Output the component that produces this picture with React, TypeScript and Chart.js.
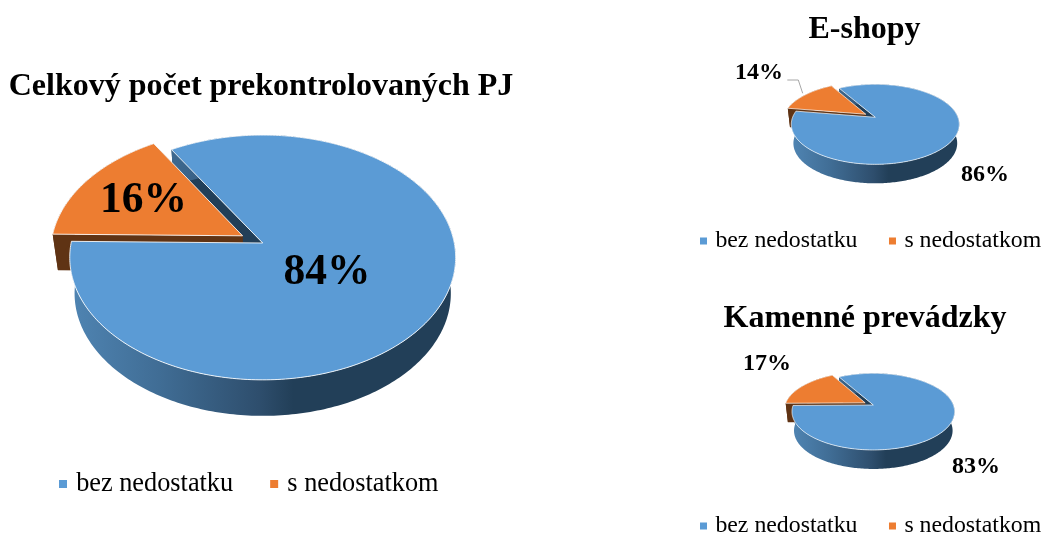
import React, { useEffect, useRef } from "react";
import { Chart, registerables } from "chart.js";

Chart.register(...registerables);

const categories = ["bez nedostatku", "s nedostatkom"];
const totalValues = [84, 16];
const eshopValues = [86, 14];
const storeValues = [83, 17];

const titleTotal = "Celkový počet prekontrolovaných PJ";
const titleEshop = "E-shopy";
const titleStore = "Kamenné prevádzky";

const BLUE = "#5B9BD5";
const ORANGE = "#ED7D31";
const NAVY = "#223F58";
const BROWN = "#5F3314";
const SERIF = "'Liberation Serif', 'Times New Roman', serif";

type Cfg = {
  region: number[];
  title: string; titleSize: number; titleAt: number[];
  values: number[]; rotation: number; offset: number;
  apex: number[]; R: number; sy: number; c: number; depth: number; rim: number;
  legendSize: number; legendBox: number; legendGap: number; legendAt: number[];
  labelSize: number; labelAt: number[][]; leader?: number[][];
};

const panels: Cfg[] = [
  {
    region: [0, 0, 560, 533], title: titleTotal, titleSize: 32, titleAt: [261, 87],
    values: totalValues, rotation: 328.4, offset: 23.3,
    apex: [262.7, 243], R: 191.6, sy: 0.63, c: -0.118, depth: 36, rim: 1,
    legendSize: 26.3, legendBox: 8, legendGap: 41, legendAt: [63, 484],
    labelSize: 43.5, labelAt: [[327, 272.5], [143.5, 200.5]],
  },
  {
    region: [600, 0, 443, 280], title: titleEshop, titleSize: 32, titleAt: [864.5, 30],
    values: eshopValues, rotation: 329.8, offset: 11.7,
    apex: [875.3, 117.3], R: 82.7, sy: 0.469, c: -0.175, depth: 19, rim: 0.8,
    legendSize: 23.8, legendBox: 7, legendGap: 35, legendAt: [703.5, 241],
    labelSize: 24, labelAt: [[985, 175], [759, 73]],
    leader: [[787.3, 80], [798.3, 80], [802.7, 93.3]],
  },
  {
    region: [600, 280, 443, 253], title: titleStore, titleSize: 32, titleAt: [865, 319],
    values: storeValues, rotation: 330.5, offset: 9.5,
    apex: [873.3, 405], R: 80.1, sy: 0.464, c: -0.173, depth: 19, rim: 0.8,
    legendSize: 23.8, legendBox: 7, legendGap: 35, legendAt: [703.5, 526],
    labelSize: 24, labelAt: [[976, 467], [767, 364]],
  },
];

function makePlugin(cfg: Cfg) {
  const [ox, oy] = cfg.region;
  const NARROW = 0.025;

  const project = (arc: any, off: number[], px: number, py: number, t: number) => {
    const x = px + off[0];
    const y = py + off[1];
    const w = 1 + (cfg.c * y) / cfg.R;
    return [arc.x + (x / w) * (1 - NARROW * t), arc.y + (cfg.sy * y) / w + cfg.depth * t];
  };
  const rimPoints = (arc: any, off: number[], t: number) => {
    const pts: number[][] = [];
    const n = Math.max(2, Math.ceil(((arc.endAngle - arc.startAngle) * 180) / Math.PI));
    for (let i = 0; i <= n; i++) {
      const a = arc.startAngle + ((arc.endAngle - arc.startAngle) * i) / n;
      pts.push(project(arc, off, arc.outerRadius * Math.cos(a), arc.outerRadius * Math.sin(a), t));
    }
    return pts;
  };
  const trace = (ctx: CanvasRenderingContext2D, pts: number[][]) => {
    ctx.beginPath();
    pts.forEach((p, i) => (i ? ctx.lineTo(p[0], p[1]) : ctx.moveTo(p[0], p[1])));
    ctx.closePath();
  };
  const offsetOf = (arc: any) => {
    const mid = (arc.startAngle + arc.endAngle) / 2;
    const o = arc.options.offset || 0;
    return [Math.cos(mid) * o, Math.sin(mid) * o];
  };
  const drawWalls = (ctx: CanvasRenderingContext2D, arc: any, outer: any, face: string) => {
    const off = offsetOf(arc);
    const top = rimPoints(arc, off, 0);
    const bottom = rimPoints(arc, off, 1);
    ctx.fillStyle = face;
    [0, top.length - 1].forEach((i) => {
      trace(ctx, [project(arc, off, 0, 0, 0), top[i], bottom[i], project(arc, off, 0, 0, 1)]);
      ctx.fill();
    });
    ctx.fillStyle = outer;
    trace(ctx, [...top, ...bottom.slice().reverse()]);
    ctx.fill();
  };
  const drawTop = (ctx: CanvasRenderingContext2D, arc: any, color: string) => {
    const off = offsetOf(arc);
    trace(ctx, [project(arc, off, 0, 0, 0), ...rimPoints(arc, off, 0)]);
    ctx.fillStyle = color;
    ctx.fill();
    ctx.strokeStyle = "rgba(255,255,255,0.85)";
    ctx.lineWidth = cfg.rim;
    ctx.lineJoin = "round";
    ctx.stroke();
  };

  return {
    id: "pie3d",
    afterLayout(chart: any) {
      const a = chart.chartArea;
      const ax = cfg.apex[0] - ox;
      const ay = cfg.apex[1] - oy;
      const half = cfg.R + cfg.offset;
      a.left = ax - half; a.right = ax + half; a.top = ay - half; a.bottom = ay + half;
      a.width = 2 * half; a.height = 2 * half;

      const t = chart.titleBlock;
      const dx = cfg.titleAt[0] - ox - (t.left + t.right) / 2;
      const dy = cfg.titleAt[1] - oy - (t.top + t.bottom) / 2;
      t.left += dx; t.right += dx; t.top += dy; t.bottom += dy;

      const l = chart.legend;
      const pad = cfg.legendGap;
      const lx = cfg.legendAt[0] - ox - (l.left + pad + l.right - l.lineWidths[0]) / 2;
      const ly = cfg.legendAt[1] - oy - (l.top + pad + cfg.legendSize / 2);
      l.left += lx; l.right += lx; l.top += ly; l.bottom += ly;
    },
    beforeDatasetsDraw(chart: any) {
      const ctx: CanvasRenderingContext2D = chart.ctx;
      const [blue, orange] = chart.getDatasetMeta(0).data;
      const grad = ctx.createLinearGradient(blue.x - cfg.R, 0, blue.x + cfg.R, 0);
      grad.addColorStop(0, "#4F84B2");
      grad.addColorStop(0.23, "#406D95");
      grad.addColorStop(0.49, "#2E4E6D");
      grad.addColorStop(0.58, NAVY);
      grad.addColorStop(1, NAVY);
      drawWalls(ctx, blue, grad, NAVY);
      drawWalls(ctx, orange, BROWN, BROWN);
      drawTop(ctx, orange, ORANGE);
      drawTop(ctx, blue, BLUE);
      return false;
    },
    afterDraw(chart: any) {
      const ctx: CanvasRenderingContext2D = chart.ctx;
      ctx.save();
      if (cfg.leader) {
        ctx.strokeStyle = "#A6A6A6";
        ctx.lineWidth = 1;
        ctx.beginPath();
        cfg.leader.forEach((p, i) => (i ? ctx.lineTo(p[0] - ox, p[1] - oy) : ctx.moveTo(p[0] - ox, p[1] - oy)));
        ctx.stroke();
      }
      ctx.fillStyle = "#000";
      ctx.font = `bold ${cfg.labelSize}px ${SERIF}`;
      ctx.textAlign = "center";
      ctx.textBaseline = "middle";
      cfg.values.forEach((v, i) => {
        ctx.fillText(`${v}%`, cfg.labelAt[i][0] - ox, cfg.labelAt[i][1] - oy);
      });
      ctx.restore();
    },
  };
}

function Panel({ cfg }: { cfg: Cfg }) {
  const ref = useRef<HTMLCanvasElement>(null);
  useEffect(() => {
    const chart = new Chart(ref.current as HTMLCanvasElement, {
      type: "pie",
      data: {
        labels: categories,
        datasets: [{
          data: cfg.values,
          backgroundColor: [BLUE, ORANGE],
          borderWidth: 0,
          offset: [0, cfg.offset],
          hoverOffset: 0,
          clip: false,
        }],
      },
      options: {
        responsive: false,
        animation: false,
        radius: cfg.R,
        rotation: cfg.rotation,
        events: [],
        plugins: {
          tooltip: { enabled: false },
          title: {
            display: true,
            text: cfg.title,
            color: "#000",
            padding: 0,
            font: { family: SERIF, size: cfg.titleSize, weight: "bold" },
          },
          legend: {
            position: "bottom",
            labels: {
              usePointStyle: true,
              pointStyle: "rect",
              boxWidth: 0.01,
              boxHeight: cfg.legendBox,
              padding: cfg.legendGap,
              color: "#000",
              font: { family: SERIF, size: cfg.legendSize },
            },
          },
        },
      } as any,
      plugins: [makePlugin(cfg)],
    } as any);
    return () => chart.destroy();
  }, [cfg]);
  const [x, y, w, h] = cfg.region;
  return (
    <canvas
      ref={ref}
      width={w}
      height={h}
      style={{ position: "absolute", left: x, top: y, width: w, height: h }}
    />
  );
}

export default function App() {
  return (
    <div style={{ position: "fixed", left: 0, top: 0, width: 1043, height: 533, overflow: "hidden", background: "#fff" }}>
      {panels.map((p) => (
        <Panel key={p.title} cfg={p} />
      ))}
    </div>
  );
}
